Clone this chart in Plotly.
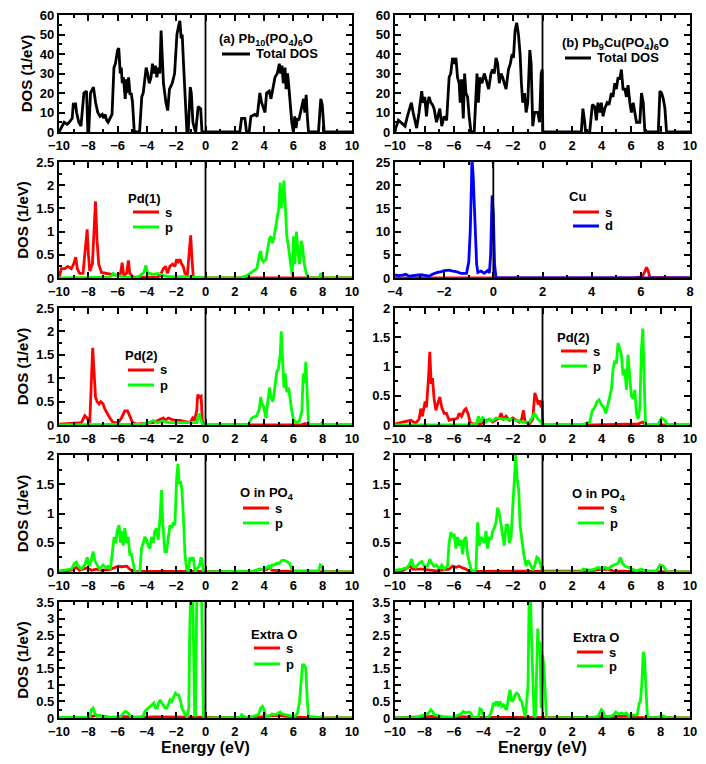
import plotly.graph_objects as go

# ---------------- data (energy in eV, DOS in 1/eV) ----------------
TOTAL_A = [(-10,0),(-9.8,3),(-9.65,5),(-9.45,4),(-9.3,5),(-9.1,7),(-9.02,15),(-8.95,12),(-8.88,15),(-8.8,10),(-8.65,5),(-8.5,3),(-8.3,20),(-8.12,21),(-8.03,0),(-7.97,0),(-7.85,20),(-7.65,23),(-7.5,15),(-7.35,10),(-7.2,8),(-7.05,9),(-6.95,7),(-6.85,9),(-6.75,6),(-6.65,5),(-6.5,7),(-6.38,9),(-6.25,33),(-6.15,35),(-6.0,42),(-5.92,43),(-5.82,30),(-5.75,33),(-5.68,25),(-5.6,28),(-5.48,17),(-5.4,27),(-5.32,20),(-5.25,28),(-5.15,19),(-5.07,20),(-4.98,15),(-4.86,0),(-4.5,0),(-4.35,18),(-4.25,20),(-4.15,28),(-4.05,33),(-3.95,30),(-3.84,25),(-3.72,28),(-3.62,35),(-3.52,30),(-3.42,34),(-3.32,28),(-3.22,33),(-3.12,30),(-3.03,52),(-2.96,40),(-2.87,25),(-2.7,15),(-2.58,11),(-2.46,22),(-2.27,25),(-2.11,30),(-1.95,50),(-1.82,55),(-1.75,57),(-1.66,48),(-1.59,50),(-1.5,35),(-1.38,20),(-1.27,0),(-1.18,0),(-1.04,23),(-0.97,20),(-0.86,5),(-0.76,2),(-0.67,0),(-0.5,13),(-0.33,12),(-0.24,0),(2.34,0),(2.46,7),(2.69,7),(2.8,0),(2.98,0),(3.1,8),(3.37,9),(3.53,8),(3.71,20),(3.83,15),(3.94,12),(4.06,10),(4.17,20),(4.35,21),(4.47,17),(4.58,22),(4.74,28),(4.9,30),(5.04,35),(5.13,30),(5.22,34),(5.31,25),(5.43,33),(5.5,22),(5.6,30),(5.68,24),(5.77,15),(5.89,5),(6.0,0),(6.09,8),(6.18,2),(6.27,7),(6.37,6),(6.46,9),(6.57,14),(6.69,17),(6.78,10),(6.87,19),(6.96,7),(7.03,0),(7.71,0),(7.87,17),(7.97,14),(8.1,0),(10,0)]

TOTAL_B = [(-10,0),(-9.95,2),(-9.77,6),(-9.62,5),(-9.46,4),(-9.32,3),(-9.16,8),(-9.0,12),(-8.89,15),(-8.77,10),(-8.64,5),(-8.53,2),(-8.37,10),(-8.19,21),(-8.1,15),(-7.98,18),(-7.87,8),(-7.78,15),(-7.69,18),(-7.57,15),(-7.46,14),(-7.35,12),(-7.19,5),(-7.07,8),(-6.96,12),(-6.83,3),(-6.67,8),(-6.5,6),(-6.33,28),(-6.22,30),(-6.1,38),(-5.99,35),(-5.87,38),(-5.76,28),(-5.65,25),(-5.58,15),(-5.49,27),(-5.37,7),(-5.28,30),(-5.19,20),(-5.08,18),(-4.97,8),(-4.85,0),(-4.63,0),(-4.44,30),(-4.35,15),(-4.24,28),(-4.1,25),(-3.95,30),(-3.79,26),(-3.65,22),(-3.49,30),(-3.38,32),(-3.27,30),(-3.15,38),(-3.04,35),(-2.93,25),(-2.81,30),(-2.7,28),(-2.59,25),(-2.47,22),(-2.31,32),(-2.18,35),(-2.06,40),(-1.97,38),(-1.86,52),(-1.75,56),(-1.63,50),(-1.52,40),(-1.43,25),(-1.34,15),(-1.22,20),(-1.11,10),(-1.0,15),(-0.86,42),(-0.77,35),(-0.66,3),(-0.54,10),(-0.43,10),(-0.32,10),(-0.2,5),(-0.09,30),(-0.02,32),(0.02,0),(2.63,0),(2.74,12),(2.86,5),(2.92,0),(3.2,0),(3.38,14),(3.54,13),(3.65,6),(3.76,15),(3.88,10),(3.99,15),(4.1,8),(4.22,12),(4.38,15),(4.51,14),(4.67,20),(4.78,18),(4.9,25),(5.01,22),(5.12,28),(5.24,27),(5.35,32),(5.46,22),(5.58,22),(5.69,18),(5.8,24),(5.92,15),(6.03,10),(6.15,15),(6.26,10),(6.37,5),(6.49,5),(6.6,5),(6.71,20),(6.83,15),(6.94,0),(7.85,0),(7.96,21),(8.07,20),(8.19,17),(8.3,12),(8.41,0),(10,0)]

PD1_S = [(-10,0.02),(-9.95,0.05),(-9.85,0.2),(-9.6,0.2),(-9.4,0.25),(-9.16,0.2),(-9.0,0.3),(-8.86,0.45),(-8.75,0.2),(-8.59,0.1),(-8.36,0.1),(-8.2,0.7),(-8.08,1.05),(-7.99,0.5),(-7.9,0.15),(-7.72,0.3),(-7.6,1.2),(-7.51,1.65),(-7.4,0.8),(-7.29,0.3),(-7.1,0.12),(-6.76,0.1),(-6.42,0.08),(-6.19,0.05),(-5.96,0.05),(-5.8,0.1),(-5.69,0.33),(-5.58,0.05),(-5.39,0.1),(-5.26,0.38),(-5.17,0.1),(-4.94,0.02),(-3.3,0.02),(-3.1,0.05),(-2.88,0.2),(-2.72,0.25),(-2.6,0.1),(-2.43,0.25),(-2.25,0.3),(-2.09,0.25),(-1.97,0.4),(-1.86,0.35),(-1.74,0.4),(-1.63,0.3),(-1.52,0.25),(-1.4,0.1),(-1.24,0.05),(-1.1,0.6),(-1.01,0.92),(-0.92,0.4),(-0.83,0.0),(10,0.0)]
PD1_P = [(-10,0.0),(-6.5,0.02),(-6.3,0.1),(-6.1,0.05),(-5.96,0.05),(-5.5,0.02),(-4.8,0.0),(-4.48,0.05),(-4.2,0.12),(-4.07,0.27),(-3.95,0.1),(-3.8,0.1),(-3.57,0.08),(-3.23,0.1),(-2.88,0.05),(-2.5,0.03),(-1.5,0.03),(-1.0,0.02),(-0.5,0.01),(0,0),(2.36,0.0),(2.82,0.05),(3.04,0.1),(3.27,0.15),(3.5,0.2),(3.68,0.5),(3.77,0.58),(3.84,0.4),(3.96,0.35),(4.12,0.4),(4.25,0.65),(4.37,0.85),(4.46,0.9),(4.57,0.75),(4.69,0.9),(4.8,1.1),(4.91,1.3),(5.0,1.5),(5.1,2.05),(5.16,1.5),(5.26,1.7),(5.35,2.1),(5.44,1.6),(5.55,0.9),(5.65,0.7),(5.74,0.5),(5.83,0.3),(5.92,0.05),(6.01,0.9),(6.1,0.3),(6.21,1.0),(6.3,0.6),(6.42,0.3),(6.53,0.8),(6.62,0.7),(6.74,0.3),(6.88,0.1),(7.04,0.0),(7.75,0.0),(7.88,0.1),(8.0,0.02),(8.1,0),(10,0)]

CU_S = [(-4,0),(3.5,0.0),(4.5,0.05),(5.0,0.1),(5.3,0.05),(5.8,0.1),(6.05,0.3),(6.15,1.2),(6.23,2.3),(6.3,1.5),(6.37,0.1),(6.6,0.05),(7.0,0.15),(7.2,0.05),(8,0)]
CU_D = [(-4,0.7),(-3.86,0.5),(-3.7,0.6),(-3.56,0.8),(-3.43,0.4),(-3.16,0.5),(-2.95,0.7),(-2.6,0.4),(-2.48,0.8),(-2.27,1.2),(-2.15,1.3),(-2.0,1.6),(-1.8,1.7),(-1.65,1.5),(-1.52,1.4),(-1.32,1.0),(-1.18,0.9),(-1.09,1.0),(-1.0,3.5),(-0.94,10),(-0.89,20),(-0.87,26),(-0.82,22),(-0.76,12),(-0.68,3),(-0.63,1.2),(-0.5,1.5),(-0.37,1.0),(-0.23,1.6),(-0.16,1.1),(-0.11,5),(-0.05,17.8),(0.0,14),(0.05,3),(0.11,0),(8,0)]

PD2L_S = [(-10,0.02),(-9,0.03),(-8.47,0.05),(-8.24,0.2),(-8.08,0.15),(-7.9,0.05),(-7.79,1.0),(-7.7,1.65),(-7.6,1.1),(-7.51,0.6),(-7.4,0.5),(-7.26,0.45),(-7.15,0.5),(-6.99,0.45),(-6.88,0.35),(-6.72,0.25),(-6.53,0.15),(-6.31,0.05),(-5.96,0.05),(-5.74,0.15),(-5.51,0.3),(-5.32,0.3),(-5.17,0.2),(-4.98,0.05),(-4.7,0.02),(-4.02,0.03),(-3.57,0.05),(-3.23,0.1),(-2.88,0.15),(-2.77,0.1),(-2.54,0.15),(-2.31,0.12),(-2.09,0.1),(-1.74,0.1),(-1.4,0.08),(-1.06,0.05),(-0.88,0.15),(-0.76,0.1),(-0.6,0.3),(-0.53,0.65),(-0.42,0.6),(-0.3,0.62),(-0.22,0.1),(-0.15,0),(6.5,0.0),(6.8,0.03),(7.0,0),(10,0)]
PD2L_P = [(-10,0),(-8,0.01),(-5,0.01),(-4.3,0.02),(-4.0,0.05),(-3.8,0.05),(-3.57,0.1),(-3.3,0.05),(-2.88,0.08),(-2.5,0.05),(-1.9,0.05),(-1.06,0.05),(-0.6,0.05),(-0.45,0.25),(-0.3,0.1),(-0.2,0),(2.93,0.02),(3.16,0.15),(3.5,0.2),(3.68,0.35),(3.77,0.6),(3.86,0.45),(3.96,0.4),(4.12,0.15),(4.25,0.5),(4.37,0.8),(4.46,0.6),(4.6,0.5),(4.73,0.8),(4.87,1.15),(4.98,1.2),(5.1,1.5),(5.17,2.0),(5.26,1.4),(5.35,0.8),(5.44,1.1),(5.55,0.7),(5.67,0.8),(5.78,0.5),(5.89,0.3),(6.01,0.1),(6.24,0.05),(6.42,0.1),(6.58,0.3),(6.67,1.1),(6.76,0.9),(6.85,1.35),(6.94,0.7),(7.03,0),(7.85,0),(7.95,0.05),(8.05,0),(10,0)]

PD2R_S = [(-10,0.02),(-9.5,0.05),(-8.93,0.08),(-8.6,0.03),(-8.37,0.1),(-8.25,0.28),(-8.14,0.15),(-7.96,0.4),(-7.87,0.3),(-7.73,0.8),(-7.64,1.25),(-7.55,0.7),(-7.46,0.8),(-7.35,0.45),(-7.23,0.25),(-7.12,0.35),(-6.96,0.48),(-6.83,0.3),(-6.67,0.2),(-6.51,0.2),(-6.33,0.08),(-6.1,0.1),(-5.92,0.1),(-5.76,0.12),(-5.65,0.2),(-5.49,0.15),(-5.31,0.25),(-5.19,0.28),(-5.03,0.18),(-4.92,0.05),(-4.74,0.02),(-4.17,0.02),(-3.95,0.05),(-3.61,0.1),(-3.38,0.05),(-2.93,0.12),(-2.81,0.2),(-2.65,0.1),(-2.47,0.15),(-2.24,0.08),(-2.02,0.12),(-1.79,0.08),(-1.56,0.05),(-1.41,0.1),(-1.29,0.25),(-1.18,0.05),(-0.88,0.02),(-0.66,0.1),(-0.52,0.55),(-0.39,0.45),(-0.29,0.35),(-0.2,0.42),(-0.09,0.3),(-0.02,0.42),(0.02,0),(3.5,0.0),(4.5,0.01),(6.5,0.02),(6.8,0.05),(7.0,0),(10,0)]
PD2R_P = [(-10,0),(-5,0),(-4.45,0.02),(-4.35,0.15),(-4.22,0.05),(-4.06,0.12),(-3.83,0.05),(-3.61,0.1),(-3.4,0.07),(-3.15,0.12),(-2.7,0.1),(-2.24,0.1),(-1.79,0.08),(-1.34,0.05),(-0.88,0.05),(-0.54,0.2),(-0.43,0.15),(-0.32,0.1),(-0.09,0.05),(0,0),(2.63,0),(2.86,0.02),(3.2,0.05),(3.38,0.25),(3.54,0.3),(3.7,0.4),(3.83,0.43),(3.99,0.35),(4.15,0.3),(4.29,0.2),(4.44,0.35),(4.56,0.5),(4.67,0.6),(4.78,0.95),(4.9,1.1),(5.01,1.05),(5.12,1.4),(5.24,1.3),(5.35,1.2),(5.46,0.85),(5.58,0.95),(5.69,0.6),(5.8,1.2),(5.92,0.8),(6.03,0.5),(6.15,0.45),(6.26,0.6),(6.37,0.2),(6.49,0.1),(6.6,0.3),(6.71,1.3),(6.8,1.65),(6.89,0.8),(6.98,0),(7.8,0),(7.9,0.05),(8.07,0.12),(8.3,0.08),(8.46,0),(10,0)]

OPO4L_S = [(-10,0.01),(-9.16,0.03),(-8.81,0.08),(-8.6,0.03),(-8.08,0.07),(-7.79,0.03),(-7.45,0.05),(-7.1,0.03),(-6.54,0.04),(-6.17,0.08),(-5.96,0.1),(-5.73,0.09),(-5.51,0.1),(-5.37,0.1),(-5.17,0.05),(-4.94,0.01),(0,0.01),(3.27,0.01),(3.73,0.05),(4.17,0.04),(4.35,0.08),(4.53,0.03),(5.1,0.02),(6.0,0.01),(10,0.0)]
OPO4L_P = [(-10,0.02),(-9.5,0.04),(-9.16,0.05),(-8.93,0.15),(-8.81,0.17),(-8.7,0.1),(-8.47,0.05),(-8.24,0.12),(-8.08,0.25),(-7.95,0.1),(-7.79,0.2),(-7.67,0.35),(-7.56,0.2),(-7.4,0.12),(-7.22,0.05),(-6.99,0.12),(-6.81,0.08),(-6.65,0.1),(-6.49,0.05),(-6.35,0.35),(-6.24,0.6),(-6.12,0.5),(-6.03,0.7),(-5.9,0.8),(-5.8,0.5),(-5.71,0.7),(-5.62,0.45),(-5.51,0.75),(-5.39,0.5),(-5.28,0.6),(-5.17,0.3),(-5.05,0.3),(-4.94,0.15),(-4.82,0.0),(-4.48,0.0),(-4.37,0.4),(-4.25,0.5),(-4.14,0.6),(-4.02,0.55),(-3.91,0.45),(-3.8,0.4),(-3.68,0.6),(-3.57,0.5),(-3.46,0.7),(-3.34,0.75),(-3.23,0.55),(-3.11,0.9),(-3.0,1.4),(-2.91,0.8),(-2.77,0.35),(-2.66,0.35),(-2.54,0.6),(-2.43,0.8),(-2.31,0.75),(-2.2,0.85),(-2.09,0.8),(-1.97,1.6),(-1.88,1.85),(-1.79,1.5),(-1.7,1.55),(-1.61,1.4),(-1.52,1.0),(-1.4,0.3),(-1.29,0.05),(-1.17,0.0),(-1.06,0.25),(-0.95,0.2),(-0.83,0.25),(-0.72,0.0),(-0.6,0.05),(-0.42,0.1),(-0.3,0.25),(-0.21,0.15),(-0.15,0.0),(2.82,0.02),(3.27,0.02),(3.73,0.05),(4.07,0.05),(4.3,0.1),(4.41,0.05),(4.53,0.12),(4.69,0.12),(4.87,0.15),(5.05,0.15),(5.21,0.2),(5.37,0.2),(5.55,0.18),(5.74,0.15),(5.89,0.05),(6.01,0.02),(6.47,0.02),(7.04,0.02),(7.72,0.02),(7.83,0.12),(7.95,0.1),(8.06,0),(10,0)]

OPO4R_S = [(-10,0.01),(-9.5,0.02),(-8.98,0.1),(-8.82,0.05),(-8.19,0.05),(-7.2,0.02),(-6.33,0.05),(-6.1,0.1),(-5.87,0.08),(-5.65,0.1),(-5.42,0.07),(-5.19,0.05),(-4.97,0.01),(0,0.01),(3.4,0.02),(3.76,0.04),(4.33,0.05),(4.78,0.02),(5.46,0.02),(6,0.01),(10,0)]
OPO4R_P = [(-10,0.03),(-9.5,0.05),(-9.16,0.08),(-8.98,0.15),(-8.87,0.22),(-8.75,0.1),(-8.6,0.08),(-8.37,0.15),(-8.19,0.18),(-8.03,0.1),(-7.8,0.1),(-7.64,0.22),(-7.51,0.15),(-7.35,0.1),(-7.19,0.12),(-7.0,0.05),(-6.83,0.12),(-6.67,0.05),(-6.44,0.1),(-6.33,0.5),(-6.21,0.68),(-6.1,0.6),(-5.99,0.65),(-5.87,0.4),(-5.76,0.6),(-5.65,0.45),(-5.53,0.55),(-5.42,0.3),(-5.31,0.55),(-5.19,0.6),(-5.08,0.3),(-4.97,0.2),(-4.85,0.05),(-4.69,0.0),(-4.51,0.05),(-4.4,0.85),(-4.29,0.45),(-4.17,0.6),(-4.06,0.55),(-3.95,0.5),(-3.83,0.7),(-3.72,0.4),(-3.61,0.6),(-3.49,0.55),(-3.38,0.7),(-3.27,0.75),(-3.15,0.85),(-3.04,1.1),(-2.93,1.0),(-2.81,0.8),(-2.7,0.55),(-2.59,0.45),(-2.47,0.8),(-2.36,0.8),(-2.24,0.5),(-2.13,0.6),(-2.02,1.1),(-1.9,1.6),(-1.81,2.0),(-1.72,1.6),(-1.61,1.4),(-1.52,0.8),(-1.38,0.5),(-1.27,0.3),(-1.11,0.1),(-1.0,0.2),(-0.88,0.15),(-0.77,0.1),(-0.66,0.05),(-0.54,0.1),(-0.39,0.25),(-0.25,0.22),(-0.11,0.1),(-0.02,0.05),(0.02,0),(2.63,0),(2.74,0.05),(3.2,0.03),(3.54,0.05),(3.76,0.08),(3.99,0.05),(4.22,0.08),(4.44,0.05),(4.67,0.1),(4.9,0.12),(5.12,0.15),(5.28,0.25),(5.42,0.15),(5.58,0.1),(5.8,0.08),(6.03,0.05),(6.37,0.02),(6.71,0.05),(6.94,0.02),(7.73,0.02),(7.96,0.12),(8.19,0.1),(8.37,0.03),(8.46,0),(10,0)]

EXOL_S = [(-10,0.01),(-8,0.02),(-7.5,0.08),(-7.0,0.05),(-6.5,0.02),(-5.5,0.04),(-4.5,0.02),(-3.5,0.03),(-2.0,0.03),(-1.0,0.02),(0,0.01),(3.5,0.01),(4.0,0.05),(4.5,0.06),(5.0,0.08),(5.5,0.05),(6.0,0.03),(7.0,0.01),(10,0)]
EXOL_P = [(-10,0.02),(-7.9,0.02),(-7.79,0.25),(-7.67,0.3),(-7.56,0.15),(-7.4,0.05),(-7.22,0.08),(-6.76,0.02),(-5.85,0.02),(-5.62,0.15),(-5.48,0.2),(-5.28,0.15),(-5.12,0.05),(-4.94,0.01),(-4.25,0.05),(-4.14,0.2),(-4.02,0.25),(-3.86,0.3),(-3.68,0.4),(-3.52,0.45),(-3.41,0.3),(-3.3,0.3),(-3.2,0.45),(-3.09,0.55),(-2.98,0.45),(-2.86,0.35),(-2.75,0.3),(-2.63,0.3),(-2.52,0.45),(-2.41,0.55),(-2.29,0.5),(-2.18,0.6),(-2.06,0.75),(-1.95,0.7),(-1.84,0.7),(-1.72,0.55),(-1.61,0.3),(-1.5,0.2),(-1.4,0.1),(-1.27,0.05),(-1.14,0.3),(-1.08,2.5),(-1.02,4.2),(-0.95,5.0),(-0.88,4.0),(-0.8,1.2),(-0.74,0.1),(-0.68,0.05),(-0.64,1.5),(-0.59,4.0),(-0.52,4.5),(-0.42,3.7),(-0.35,4.3),(-0.27,3.8),(-0.2,1.5),(-0.15,0.1),(-0.1,0),(2.36,0.02),(2.47,0.1),(2.59,0.05),(2.8,0.02),(3.27,0.05),(3.62,0.1),(3.77,0.3),(3.89,0.35),(4.0,0.25),(4.12,0.05),(4.3,0.05),(4.53,0.12),(4.76,0.1),(4.87,0.12),(5.1,0.18),(5.26,0.12),(5.44,0.1),(5.58,0.1),(5.78,0.08),(5.96,0.05),(6.11,0.05),(6.28,0.15),(6.42,0.5),(6.53,1.2),(6.62,1.6),(6.74,1.6),(6.85,1.5),(6.94,0.6),(7.03,0.05),(7.85,0.02),(7.95,0.05),(8.05,0),(10,0)]

EXOR_S = [(-10,0.01),(-8.5,0.02),(-8.0,0.03),(-7.5,0.05),(-7.0,0.03),(-6.0,0.02),(-5.5,0.04),(-4.5,0.02),(-3.0,0.02),(-1.5,0.02),(0,0.01),(3.5,0.01),(4.0,0.04),(4.5,0.05),(5.0,0.06),(5.5,0.05),(6.0,0.05),(6.5,0.02),(7.5,0.01),(10,0)]
EXOR_P = [(-10,0.01),(-8.6,0.02),(-8.37,0.05),(-8.14,0.08),(-7.91,0.1),(-7.73,0.15),(-7.57,0.25),(-7.46,0.2),(-7.35,0.1),(-7.12,0.08),(-6.89,0.05),(-6.67,0.03),(-6.33,0.02),(-5.99,0.03),(-5.76,0.08),(-5.53,0.12),(-5.37,0.2),(-5.19,0.15),(-5.01,0.18),(-4.85,0.15),(-4.74,0.02),(-4.51,0.01),(-4.33,0.05),(-4.24,0.28),(-4.13,0.25),(-4.01,0.05),(-3.88,0.01),(-3.65,0.02),(-3.49,0.15),(-3.33,0.45),(-3.22,0.4),(-3.11,0.5),(-2.99,0.35),(-2.88,0.5),(-2.77,0.35),(-2.65,0.4),(-2.54,0.3),(-2.43,0.25),(-2.31,0.6),(-2.2,0.85),(-2.09,0.5),(-1.97,0.55),(-1.86,0.7),(-1.75,0.75),(-1.63,0.7),(-1.52,0.55),(-1.41,0.5),(-1.29,0.2),(-1.18,0.05),(-1.07,0.5),(-0.98,1.0),(-0.91,3.5),(-0.82,3.8),(-0.75,2.5),(-0.66,1.3),(-0.57,0.05),(-0.48,0.05),(-0.39,2.2),(-0.32,2.7),(-0.25,2.0),(-0.18,2.3),(-0.09,0.3),(0.0,1.9),(0.09,1.6),(0.18,0.5),(0.27,0),(3.42,0.02),(3.76,0.05),(3.99,0.25),(4.1,0.2),(4.22,0.05),(4.56,0.05),(4.78,0.08),(4.97,0.18),(5.12,0.12),(5.35,0.15),(5.51,0.12),(5.69,0.15),(5.87,0.05),(6.03,0.1),(6.26,0.08),(6.42,0.1),(6.56,0.45),(6.64,0.5),(6.73,1.0),(6.83,2.0),(6.92,1.8),(7.01,1.0),(7.1,0.1),(7.17,0),(7.85,0.02),(8.07,0.08),(8.3,0.05),(8.53,0),(10,0)]

FERMI = 0.0
RED, GREEN, BLUE, BLACK = "#ff0000", "#00ff00", "#0000ff", "#000000"

# ---------------- layout geometry ----------------
# page body has an 8px margin; figure is sized so the plot lands where the reference has it
BODY = 8
W, H = 706 - 2 * BODY, 764 - 2 * BODY
PX_L, PX_R, PX_T, PX_B = 59, 690, 15, 718          # plot-area edges in window pixels
ML, MR, MT = PX_L - BODY, W - (PX_R - BODY), PX_T - BODY
MB = H - (PX_B - BODY)
PW, PH = PX_R - PX_L, PX_B - PX_T
FONT = "Liberation Sans"


def px2x(px):
    return (px - PX_L) / PW


def px2y(py):
    return (PX_B - py) / PH


COLS = [[px2x(59), px2x(352)], [px2x(395), px2x(690)]]
ROWS = [[px2y(132), px2y(15)], [px2y(278), px2y(162)], [px2y(425), px2y(308)],
        [px2y(572), px2y(455)], [px2y(718), px2y(602)]]

SUB = "<sub>{}</sub>"
TITLE_A = "(a) Pb" + SUB.format(10) + "(PO" + SUB.format(4) + ")" + SUB.format(6) + "O"
TITLE_B = "(b) Pb" + SUB.format(9) + "Cu(PO" + SUB.format(4) + ")" + SUB.format(6) + "O"
TITLE_OPO4 = "O in PO" + SUB.format(4)

# legend boxes: (title x, title y, line x0, line x1, first entry y, entry step) in window pixels
panels = [
    (0, 0, [-10, 10], [0, 60], 10, TITLE_A, (219, 40, 222, 250, 54, 0), [("Total DOS", TOTAL_A, BLACK)]),
    (1, 0, [-10, 10], [0, 60], 10, TITLE_B, (562, 43, 565, 591, 58, 0), [("Total DOS", TOTAL_B, BLACK)]),
    (0, 1, [-10, 10], [0, 2.5], 0.5, "Pd(1)", (128, 198, 133, 159, 212, 15), [("s", PD1_S, RED), ("p", PD1_P, GREEN)]),
    (1, 1, [-4, 8], [0, 25], 5, "Cu", (569, 197, 573, 599, 212, 14), [("s", CU_S, RED), ("d", CU_D, BLUE)]),
    (0, 2, [-10, 10], [0, 2.5], 0.5, "Pd(2)", (125, 355, 128, 154, 370, 15), [("s", PD2L_S, RED), ("p", PD2L_P, GREEN)]),
    (1, 2, [-10, 10], [0, 2], 0.5, "Pd(2)", (557, 337, 561, 587, 351, 15), [("s", PD2R_S, RED), ("p", PD2R_P, GREEN)]),
    (0, 3, [-10, 10], [0, 2], 0.5, TITLE_OPO4, (240, 493, 243, 269, 508, 15), [("s", OPO4L_S, RED), ("p", OPO4L_P, GREEN)]),
    (1, 3, [-10, 10], [0, 2], 0.5, TITLE_OPO4, (572, 494, 578, 604, 508, 15), [("s", OPO4R_S, RED), ("p", OPO4R_P, GREEN)]),
    (0, 4, [-10, 10], [0, 3.5], 0.5, "Extra O", (251, 634, 254, 280, 648, 16), [("s", EXOL_S, RED), ("p", EXOL_P, GREEN)]),
    (1, 4, [-10, 10], [0, 3.5], 0.5, "Extra O", (573, 637, 577, 603, 652, 14), [("s", EXOR_S, RED), ("p", EXOR_P, GREEN)]),
]

fig = go.Figure()
layout = dict(
    width=W, height=H,
    margin=dict(l=ML, r=MR, t=MT, b=MB, autoexpand=False),
    paper_bgcolor="white", plot_bgcolor="white",
    font=dict(family=FONT, size=13, color="black", weight="bold"),
    showlegend=False,
    shapes=[], annotations=[],
)

tickfont = dict(family=FONT, size=13, color="black", weight="bold")
legfont = dict(family=FONT, size=13, color="black", weight="bold")

for i, (col, row, xr, yr, ydt, title, lg, curves) in enumerate(panels, start=1):
    sx = "" if i == 1 else str(i)
    for name, pts, color in curves:
        fig.add_trace(go.Scatter(
            x=[p[0] for p in pts], y=[p[1] for p in pts], mode="lines",
            name=name, line=dict(color=color, width=2.8),
            xaxis="x" + sx, yaxis="y" + sx,
        ))
    common = dict(showline=True, linecolor="black", linewidth=2.2, mirror="allticks",
                  ticks="inside", ticklen=6, tickwidth=2, tickcolor="black",
                  showgrid=False, zeroline=False, tickfont=tickfont, fixedrange=True,
                  ticklabeloverflow="allow")
    xa = dict(common, domain=COLS[col], range=xr, dtick=2, tick0=0, anchor="y" + sx,
              minor=dict(dtick=1, ticks="inside", ticklen=3, tickwidth=2, tickcolor="black", showgrid=False))
    ya = dict(common, domain=ROWS[row], range=yr, dtick=ydt, tick0=0, anchor="x" + sx,
              minor=dict(dtick=ydt / 2, ticks="inside", ticklen=3, tickwidth=2, tickcolor="black", showgrid=False))
    if row == 4:
        xa["title"] = dict(text="Energy (eV)", font=dict(family=FONT, size=16, color="black", weight="bold"), standoff=4)
    if col == 0:
        ya["title"] = dict(text="DOS (1/eV)", font=dict(family=FONT, size=15, color="black", weight="bold"), standoff=4)
    layout["xaxis" + sx] = xa
    layout["yaxis" + sx] = ya
    layout["shapes"].append(dict(type="line", xref="x" + sx, yref="y" + sx + " domain",
                                 x0=FERMI, x1=FERMI, y0=0, y1=1,
                                 line=dict(color="black", width=1.8), layer="above"))
    # legend block (title + key lines + labels)
    tx, ty, kx0, kx1, ky, step = lg
    layout["annotations"].append(dict(text=title, xref="paper", yref="paper", x=px2x(tx - 2), y=px2y(ty),
                                      xanchor="left", yanchor="middle", showarrow=False, font=legfont))
    for k, (name, pts, color) in enumerate(curves):
        yy = ky + k * step
        layout["shapes"].append(dict(type="line", xref="paper", yref="paper",
                                     x0=px2x(kx0), x1=px2x(kx1), y0=px2y(yy), y1=px2y(yy),
                                     line=dict(color=color, width=3)))
        layout["annotations"].append(dict(text=name, xref="paper", yref="paper", x=px2x(kx1 + 4), y=px2y(yy),
                                          xanchor="left", yanchor="middle", showarrow=False, font=legfont))

fig.update_layout(**layout)
fig.write_html("out.html")
